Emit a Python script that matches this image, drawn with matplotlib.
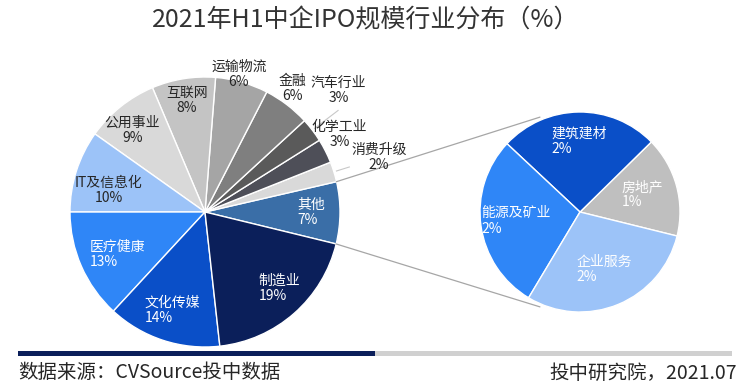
import numpy as np
import matplotlib
matplotlib.use("Agg")
import matplotlib.pyplot as plt

plt.rcParams['font.family'] = ['Noto Sans CJK SC', 'DejaVu Sans']

# ---- data ----
main_labels = ['其他', '消费升级', '化学工业', '汽车行业', '金融', '运输物流',
               '互联网', '公用事业', 'IT及信息化', '医疗健康', '文化传媒', '制造业']
main_values = [7.4, 2.4, 2.9, 2.9, 5.6, 6.3, 7.6, 8.8, 9.8, 13.1, 13.6, 19.4]

sub_labels = ['房地产', '建筑建材', '能源及矿业', '企业服务']
sub_values = [1.2, 1.9, 2.1, 2.2]

title = '2021年H1中企IPO规模行业分布（%）'
source_text = '数据来源：CVSource投中数据'
org_text = '投中研究院，2021.07'

# ---- styles ----
main_colors = ['#3A6EA7', '#D9D9D9', '#4E4F58', '#5A5A5A', '#7F7F7F', '#A5A5A5',
               '#C4C4C4', '#D9D9D9', '#9CC3F8', '#2F86F7', '#0A4FC8', '#0B1F5A']
main_text_colors = ['white', '#262626', '#262626', '#262626', '#262626', '#262626',
                    '#262626', '#262626', '#262626', 'white', 'white', 'white']
main_label_r = [0.79, 1.35, 1.15, 1.34, 1.12, 1.05, 0.84, 0.81, 0.73, 0.72, 0.77, 0.79]
main_label_da = [0, 0, 3, 5, 2, 2, 0, 3, 5, 2, 0, 3]
sub_colors = ['#BFBFBF', '#0A4FC8', '#2F86F7', '#9CC3F8']
sub_label_r = [0.65, 0.71, 0.65, 0.62]

W, H = 750, 392
fig = plt.figure(figsize=(W / 100, H / 100), dpi=100)
ax = fig.add_axes([0, 0, 1, 1])
ax.set_xlim(0, W)
ax.set_ylim(0, H)
ax.set_aspect('equal')
ax.axis('off')

mc = (205, H - 212)
mr = 135
sc = (580, H - 212)
sr = 100
start_main = -13.7
start_sub = -13.9

wedges, _ = ax.pie(main_values, colors=main_colors, startangle=start_main,
                   counterclock=True, center=mc, radius=mr, frame=True,
                   wedgeprops=dict(edgecolor='white', linewidth=1.0))
swedges, _ = ax.pie(sub_values, colors=sub_colors, startangle=start_sub,
                    counterclock=True, center=sc, radius=sr, frame=True,
                    wedgeprops=dict(edgecolor='white', linewidth=1.0, zorder=3))
ax.set_xlim(0, W)
ax.set_ylim(0, H)
ax.axis('off')

fs = 10
for i, w in enumerate(wedges):
    ang = np.deg2rad((w.theta1 + w.theta2) / 2 + main_label_da[i])
    r = main_label_r[i] * mr
    x = mc[0] + r * np.cos(ang)
    y = mc[1] + r * np.sin(ang)
    white = main_text_colors[i] == 'white'
    ax.text(x, y, f"{main_labels[i]}\n{main_values[i]:.0f}%", ha='center', va='center',
            multialignment='left' if white else 'center', fontsize=fs,
            color=main_text_colors[i], linespacing=1.1, zorder=5)

# leader lines for two small outside labels
for idx, r_out in [(3, 1.24), (1, 1.12)]:
    w = wedges[idx]
    ang = np.deg2rad((w.theta1 + w.theta2) / 2)
    ax.plot([mc[0] + 1.02 * mr * np.cos(ang), mc[0] + r_out * mr * np.cos(ang)],
            [mc[1] + 1.02 * mr * np.sin(ang), mc[1] + r_out * mr * np.sin(ang)],
            color='#C8C8C8', lw=0.8, zorder=1)

for i, w in enumerate(swedges):
    ang = np.deg2rad((w.theta1 + w.theta2) / 2)
    r = sub_label_r[i] * sr
    x = sc[0] + r * np.cos(ang)
    y = sc[1] + r * np.sin(ang)
    ax.text(x, y, f"{sub_labels[i]}\n{sub_values[i]:.0f}%", ha='center', va='center',
            multialignment='left', fontsize=fs, color='white', linespacing=1.1, zorder=5)

# connection lines from the "其他" wedge to the sub pie
ow = wedges[0]
for th_main, th_sub in [(ow.theta2, 113.0), (ow.theta1, -113.0)]:
    a1 = np.deg2rad(th_main)
    a2 = np.deg2rad(th_sub)
    ax.plot([mc[0] + mr * np.cos(a1), sc[0] + 1.03 * sr * np.cos(a2)],
            [mc[1] + mr * np.sin(a1), sc[1] + 1.03 * sr * np.sin(a2)],
            color='#A6A6A6', lw=0.9, zorder=2)

# title
fig.text(366 / W, 1 - 20 / H, title, ha='center', va='center', fontsize=18, color='#333333')

# footer bars
fig.add_artist(plt.Rectangle((18 / W, 1 - 356 / H), (375 - 18) / W, 5 / H,
                             transform=fig.transFigure, color='#0B1F5A', lw=0))
fig.add_artist(plt.Rectangle((375 / W, 1 - 356 / H), (732 - 375) / W, 5 / H,
                             transform=fig.transFigure, color='#D0D0D0', lw=0))
fig.text(18 / W, 1 - 373 / H, source_text, ha='left', va='center', fontsize=14, color='#262626')
fig.text(737 / W, 1 - 373 / H, org_text, ha='right', va='center', fontsize=14, color='#262626')

fig.savefig('out.png', dpi=100)
